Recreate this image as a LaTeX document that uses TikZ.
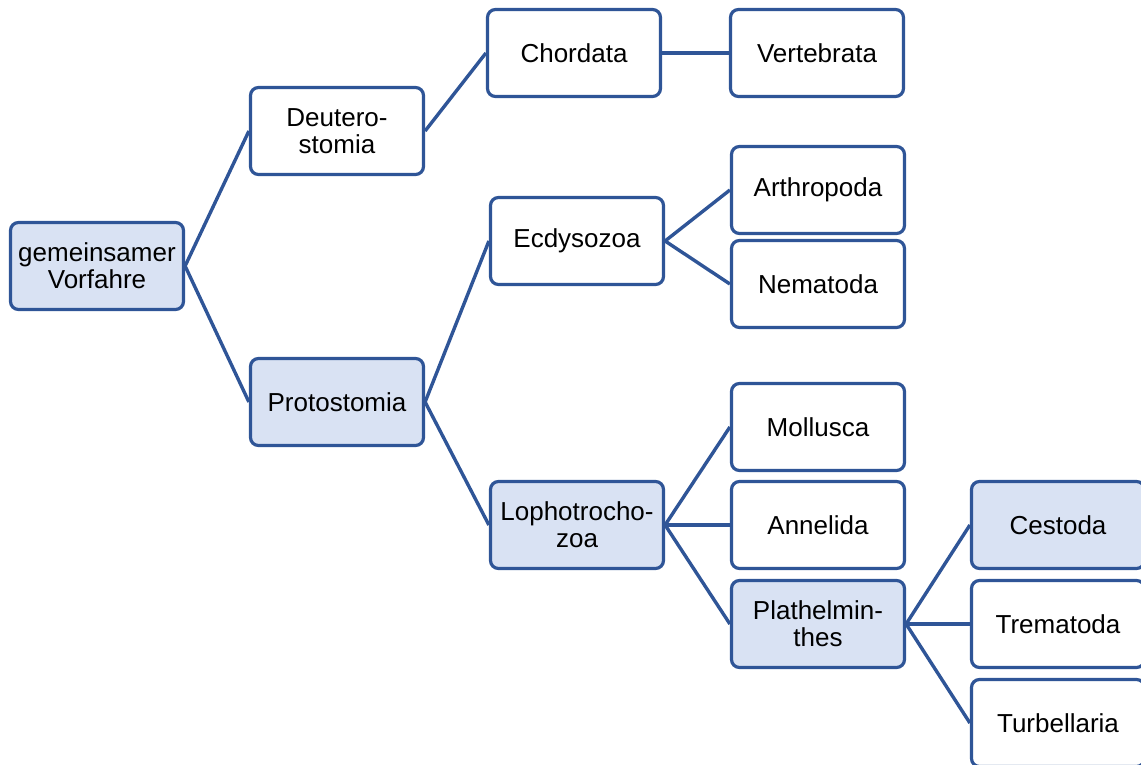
\documentclass[tikz,border=0pt]{standalone}
\usepackage{fontspec}
\setmainfont{Liberation Sans}
\definecolor{edgeblue}{HTML}{2F5597}
\definecolor{fillblue}{HTML}{D9E2F3}
\begin{document}
\begin{tikzpicture}[x=1pt,y=-1pt,
  box/.style={draw=edgeblue, line width=3.2pt, rounded corners=8pt, fill=white,
    minimum width=173pt, minimum height=87pt, align=center, inner sep=2pt,
    font=\fontsize{26}{27}\selectfont},
  hl/.style={box, fill=fillblue},
  link/.style={draw=edgeblue, line width=3.4pt}]
\useasboundingbox (0,0) rectangle (1141,764);
\clip (0,0) rectangle (1141,764);
\node[hl]  (root) at (97,266)  {gemeinsamer\\Vorfahre};
\node[box] (deu)  at (337,131) {Deutero-\\stomia};
\node[hl]  (pro)  at (337,402) {Protostomia};
\node[box] (cho)  at (574,53)  {Chordata};
\node[box] (ver)  at (817,53)  {Vertebrata};
\node[box] (ecd)  at (577,241) {Ecdysozoa};
\node[box] (art)  at (818,190) {Arthropoda};
\node[box] (nem)  at (818,284) {Nematoda};
\node[hl]  (lop)  at (577,525) {Lophotrocho-\\zoa};
\node[box] (mol)  at (818,427) {Mollusca};
\node[box] (ann)  at (818,525) {Annelida};
\node[hl]  (pla)  at (818,624) {Plathelmin-\\thes};
\node[hl]  (ces)  at (1058,525) {Cestoda};
\node[box] (tre)  at (1058,624) {Trematoda};
\node[box] (tur)  at (1058,723) {Turbellaria};
\foreach \a/\b in {root/deu,root/pro,deu/cho,cho/ver,pro/ecd,pro/lop,ecd/art,ecd/nem,lop/mol,lop/ann,lop/pla,pla/ces,pla/tre,pla/tur}
  \path[link] (\a.east) -- (\b.west);
\end{tikzpicture}
\end{document}
